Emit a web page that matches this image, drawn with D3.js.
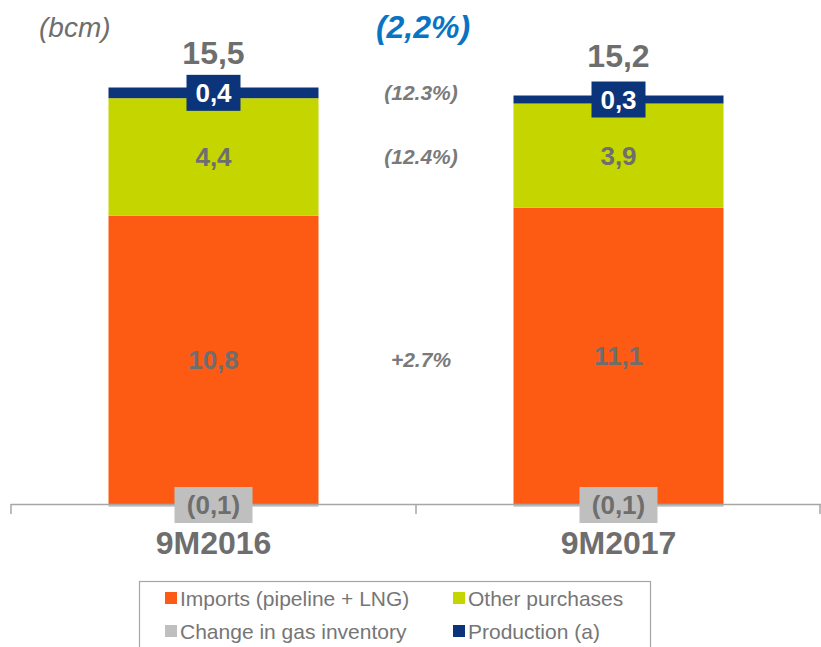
<!DOCTYPE html>
<html>
<head>
<meta charset="utf-8">
<script src="https://cdn.jsdelivr.net/npm/d3@7"></script>
<style>
  html, body { margin: 0; padding: 0; background: #fff; }
  svg { display: block; font-family: "Liberation Sans", Arial, sans-serif; }
</style>
</head>
<body>
<div class="js-d3"></div>
<script>
// values in bcm
const categories = ["9M2016", "9M2017"];
const imports = [10.8, 11.1];
const otherPurchases = [4.4, 3.9];
const production = [0.4, 0.3];
const inventory = [-0.1, -0.1];
const totals = [15.5, 15.2];
const segmentChanges = ["+2.7%", "(12.4%)", "(12.3%)"];
const totalChange = "(2,2%)";
const legendLabels = ["Imports (pipeline + LNG)", "Other purchases", "Change in gas inventory", "Production (a)"];

const w = 821;
const h = 647;

const colors = {
  imports: "#fd5a14",
  other: "#c5d500",
  production: "#0b347a",
  inventory: "#bfbfbf"
};
const textGray = "#6e6e6e";

const fmt = d3.formatLocale({ decimal: ",", thousands: ".", grouping: [3], currency: ["", ""] }).format(".1f");
const fmtVal = (v) => (v < 0 ? `(${fmt(-v)})` : fmt(v));

const svg = d3.select(".js-d3").append("svg").attr("width", w).attr("height", h);

const x = d3.scaleBand().domain(categories).range([11, 821]).paddingInner(0).paddingOuter(0);
const barW = 210;
const y = d3.scaleLinear().domain([0, 15.6]).range([504, 87.5]);

const keys = ["imports", "other", "production"];
const rows = categories.map((c, i) => ({
  cat: c,
  imports: imports[i],
  other: otherPurchases[i],
  production: production[i],
  inventory: inventory[i]
}));
const stacked = d3.stack().keys(keys)(rows);

const barX = (cat) => x(cat) + (x.bandwidth() - barW) / 2;
const cx = (cat) => x(cat) + x.bandwidth() / 2;

// positive segments
stacked.forEach((layer) => {
  svg.append("g")
    .selectAll("rect")
    .data(layer)
    .join("rect")
    .attr("x", (d) => barX(d.data.cat))
    .attr("y", (d) => y(d[1]))
    .attr("width", barW)
    .attr("height", (d) => y(d[0]) - y(d[1]))
    .attr("fill", colors[layer.key]);
});

// negative inventory segment under the axis
svg.append("g")
  .selectAll("rect")
  .data(rows)
  .join("rect")
  .attr("x", (d) => barX(d.cat))
  .attr("y", y(0))
  .attr("width", barW)
  .attr("height", (d) => y(d.inventory) - y(0))
  .attr("fill", colors.inventory);

// axis
const axisG = svg.append("g");
axisG.append("line")
  .attr("x1", 11).attr("x2", 821)
  .attr("y1", y(0) + 0.5).attr("y2", y(0) + 0.5)
  .attr("stroke", "#a6a6a6").attr("stroke-width", 1.5);
[11, 11 + x.bandwidth(), 820].forEach((tx) => {
  axisG.append("line")
    .attr("x1", tx).attr("x2", tx)
    .attr("y1", y(0)).attr("y2", y(0) + 10)
    .attr("stroke", "#a6a6a6").attr("stroke-width", 1.5);
});

// value labels inside segments
stacked.forEach((layer) => {
  layer.forEach((d) => {
    const v = d[1] - d[0];
    const my = (y(d[0]) + y(d[1])) / 2;
    const px = cx(d.data.cat);
    if (layer.key === "production") {
      svg.append("rect")
        .attr("x", px - 27).attr("y", my - 18)
        .attr("width", 54).attr("height", 36)
        .attr("fill", colors.production);
      svg.append("text")
        .attr("x", px).attr("y", my + 9.5)
        .attr("text-anchor", "middle")
        .attr("font-size", 26).attr("font-weight", "bold")
        .attr("fill", "#fff")
        .text(fmtVal(v));
    } else {
      svg.append("text")
        .attr("x", px).attr("y", my + 9.5)
        .attr("text-anchor", "middle")
        .attr("font-size", 26).attr("font-weight", "bold")
        .attr("fill", textGray)
        .text(fmtVal(v));
    }
  });
});

// inventory labels
rows.forEach((d) => {
  const px = cx(d.cat);
  svg.append("rect")
    .attr("x", px - 39).attr("y", 487)
    .attr("width", 78).attr("height", 36)
    .attr("fill", colors.inventory);
  svg.append("text")
    .attr("x", px).attr("y", 514)
    .attr("text-anchor", "middle")
    .attr("font-size", 26).attr("font-weight", "bold")
    .attr("fill", textGray)
    .text(fmtVal(d.inventory));
});

// category labels
categories.forEach((c) => {
  svg.append("text")
    .attr("x", cx(c)).attr("y", 554)
    .attr("text-anchor", "middle")
    .attr("font-size", 32).attr("font-weight", "bold")
    .attr("fill", textGray)
    .text(c);
});

// totals
totals.forEach((t, i) => {
  svg.append("text")
    .attr("x", cx(categories[i])).attr("y", i === 0 ? 64 : 67)
    .attr("text-anchor", "middle")
    .attr("font-size", 32).attr("font-weight", "bold")
    .attr("fill", textGray)
    .text(fmt(t));
});

// unit
svg.append("text")
  .attr("x", 39).attr("y", 37)
  .attr("font-size", 28).attr("font-style", "italic")
  .attr("fill", textGray)
  .text("(bcm)");

// change labels between the bars
const midX = 11 + x.bandwidth() + 2;
svg.append("text")
  .attr("x", midX + 5).attr("y", 38)
  .attr("text-anchor", "middle")
  .attr("font-size", 32).attr("font-weight", "bold").attr("font-style", "italic")
  .attr("fill", "#0a74c4")
  .text(totalChange);

const changeY = [
  (y(0) + y(imports[0])) / 2,
  (y(imports[0]) + y(imports[0] + otherPurchases[0])) / 2,
  (y(imports[0] + otherPurchases[0]) + y(imports[0] + otherPurchases[0] + production[0])) / 2
];
segmentChanges.forEach((s, i) => {
  svg.append("text")
    .attr("x", midX + 3).attr("y", changeY[i] + 7)
    .attr("text-anchor", "middle")
    .attr("font-size", 21).attr("font-weight", "bold").attr("font-style", "italic")
    .attr("fill", "#7a7a7a")
    .text(s);
});

// legend
const legend = svg.append("g");
legend.append("rect")
  .attr("x", 139.5).attr("y", 581.5)
  .attr("width", 511).attr("height", 80)
  .attr("fill", "none").attr("stroke", "#a6a6a6").attr("stroke-width", 1.2);
const legendColors = [colors.imports, colors.other, colors.inventory, colors.production];
legendLabels.forEach((lab, i) => {
  const lx = i % 2 === 0 ? 165 : 453;
  const ly = i < 2 ? 598 : 631;
  legend.append("rect")
    .attr("x", lx).attr("y", ly - 6)
    .attr("width", 12).attr("height", 12)
    .attr("fill", legendColors[i]);
  legend.append("text")
    .attr("x", lx + 15).attr("y", ly + 7.5)
    .attr("font-size", 21)
    .attr("fill", "#767676")
    .text(lab);
});
</script>
</body>
</html>
